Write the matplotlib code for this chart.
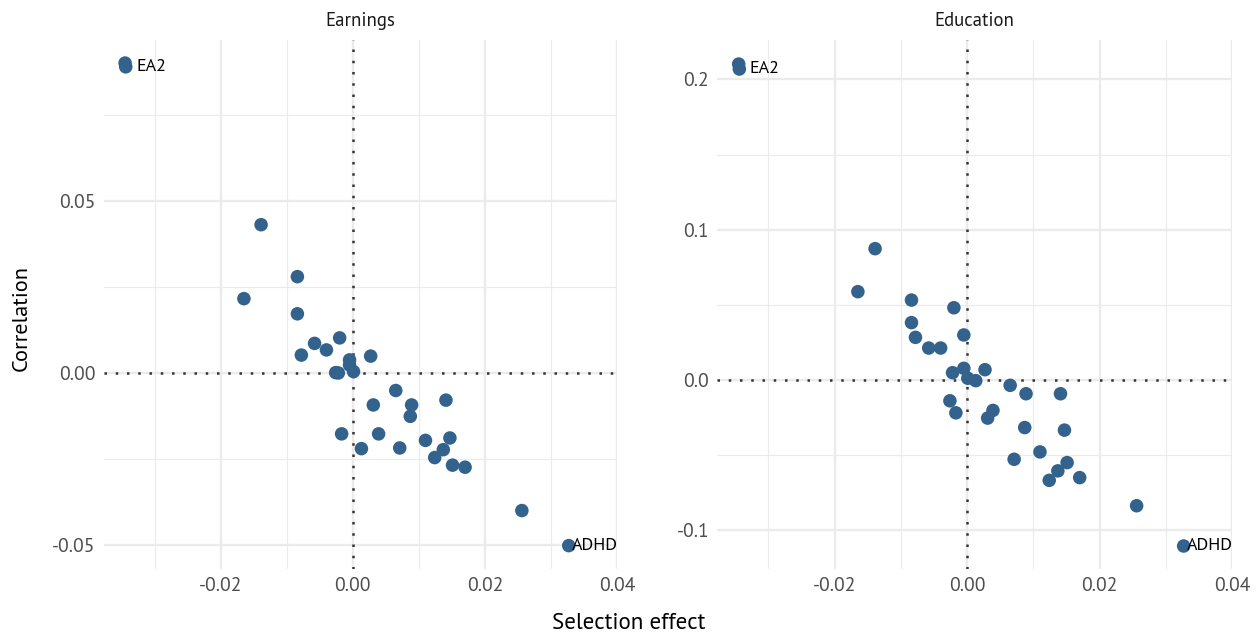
import matplotlib
matplotlib.use("Agg")
import matplotlib.pyplot as plt
from matplotlib import font_manager
from matplotlib.font_manager import FontProperties


def regular_font_file():
    """Return a static regular-weight file for the first installed humanist sans."""
    for family in ["Source Sans 3", "Source Sans Pro", "PT Sans", "Open Sans"]:
        for f in font_manager.fontManager.ttflist:
            if (f.name == family and f.style == "normal" and f.weight in (400, "normal", "regular")
                    and str(f.stretch) in ("normal", "500") and "[" not in f.fname):
                return f.fname
    return None


_font_file = regular_font_file()


def fp(size):
    if _font_file:
        return FontProperties(fname=_font_file, size=size)
    return FontProperties(family="DejaVu Sans", size=size)


# Selection effect of each polygenic score (shared by both outcomes)
selection = [-0.0345, -0.0344, -0.0139, -0.0165, -0.0084, -0.0084, -0.0020, -0.0058,
             -0.0040, -0.0078, 0.0027, -0.0005, -0.0026, -0.0022, -0.0005, 0.0001,
             0.0065, 0.0141, 0.0031, 0.0089, 0.0087, -0.0017, 0.0039, 0.0110,
             0.0147, 0.0013, 0.0071, 0.0137, 0.0124, 0.0151, 0.0170, 0.0256, 0.0327]

# Correlation with earnings
corr_earnings = [0.0901, 0.0890, 0.0431, 0.0216, 0.0280, 0.0172, 0.0102, 0.0086,
                 0.0067, 0.0052, 0.0049, 0.0038, 0.0001, 0.0000, 0.0023, 0.0004,
                 -0.0051, -0.0079, -0.0093, -0.0093, -0.0126, -0.0177, -0.0177, -0.0196,
                 -0.0189, -0.0220, -0.0218, -0.0223, -0.0246, -0.0268, -0.0274, -0.0400, -0.0502]

# Correlation with education
corr_education = [0.2102, 0.2069, 0.0874, 0.0588, 0.0532, 0.0382, 0.0481, 0.0213,
                  0.0213, 0.0284, 0.0069, 0.0300, -0.0138, 0.0049, 0.0078, 0.0012,
                  -0.0035, -0.0091, -0.0253, -0.0091, -0.0316, -0.0218, -0.0202, -0.0478,
                  -0.0333, -0.0004, -0.0527, -0.0604, -0.0667, -0.0549, -0.0649, -0.0836, -0.1104]

# Labelled scores: (index, label, horizontal offset in points)
labels = [(1, "EA2", 7.5), (32, "ADHD", 2.5)]

panels = ["Earnings", "Education"]
panel_values = [corr_earnings, corr_education]
y_limits = [(-0.0570, 0.0968), (-0.1257, 0.2262)]
y_major = [[-0.05, 0.0, 0.05], [-0.1, 0.0, 0.1, 0.2]]
y_minor = [[-0.025, 0.025, 0.075], [-0.05, 0.05, 0.15]]
y_fmt = ["{:.2f}", "{:.1f}"]
x_major = [-0.02, 0.0, 0.02, 0.04]
x_minor = [-0.03, -0.01, 0.01, 0.03]

POINT = "#33638D"
GRID = "#EBEBEB"
TICK_COLOR = "#4D4D4D"

fig = plt.figure(figsize=(12.57, 6.36), dpi=100)
rects = [[0.0827, 0.1053, 0.4081, 0.8318], [0.5708, 0.1053, 0.4093, 0.8318]]

for rect, title, vals, ylim, ymaj, ymin, fmt in zip(rects, panels, panel_values, y_limits,
                                                    y_major, y_minor, y_fmt):
    ax = fig.add_axes(rect)
    ax.set_xlim(-0.0377, 0.0400)
    ax.set_ylim(*ylim)
    for s in ax.spines.values():
        s.set_visible(False)

    ax.set_xticks(x_major)
    ax.set_xticks(x_minor, minor=True)
    ax.set_yticks(ymaj)
    ax.set_yticks(ymin, minor=True)
    ax.set_xticklabels([f"{v:.2f}" for v in x_major], fontproperties=fp(14), color=TICK_COLOR)
    ax.set_yticklabels([fmt.format(v) for v in ymaj], fontproperties=fp(14), color=TICK_COLOR)
    ax.tick_params(which="both", length=0, pad=6)
    ax.grid(which="major", color=GRID, linewidth=1.7)
    ax.grid(which="minor", color=GRID, linewidth=0.85)
    ax.set_axisbelow(True)

    ax.axhline(0, color="#333333", linewidth=1.8, linestyle=(0, (1, 3.5)), zorder=1)
    ax.axvline(0, color="#333333", linewidth=1.8, linestyle=(0, (1, 3.5)), zorder=1)

    ax.scatter(selection, vals, s=95, color=POINT, edgecolors="none", zorder=3)

    for idx, text, dx in labels:
        ax.annotate(text, (selection[idx], vals[idx]), xytext=(dx, 0),
                    textcoords="offset points", ha="left", va="center",
                    fontproperties=fp(13), color="black", zorder=4)

    ax.set_title(title, fontproperties=fp(13.5), color="#1A1A1A", pad=10)

fig.text(0.5, 0.003, "Selection effect", ha="center", va="bottom", fontproperties=fp(16.5))
fig.text(0.009, 0.5, "Correlation", ha="left", va="center", rotation=90, fontproperties=fp(16))

fig.savefig("out.png", dpi=100)
